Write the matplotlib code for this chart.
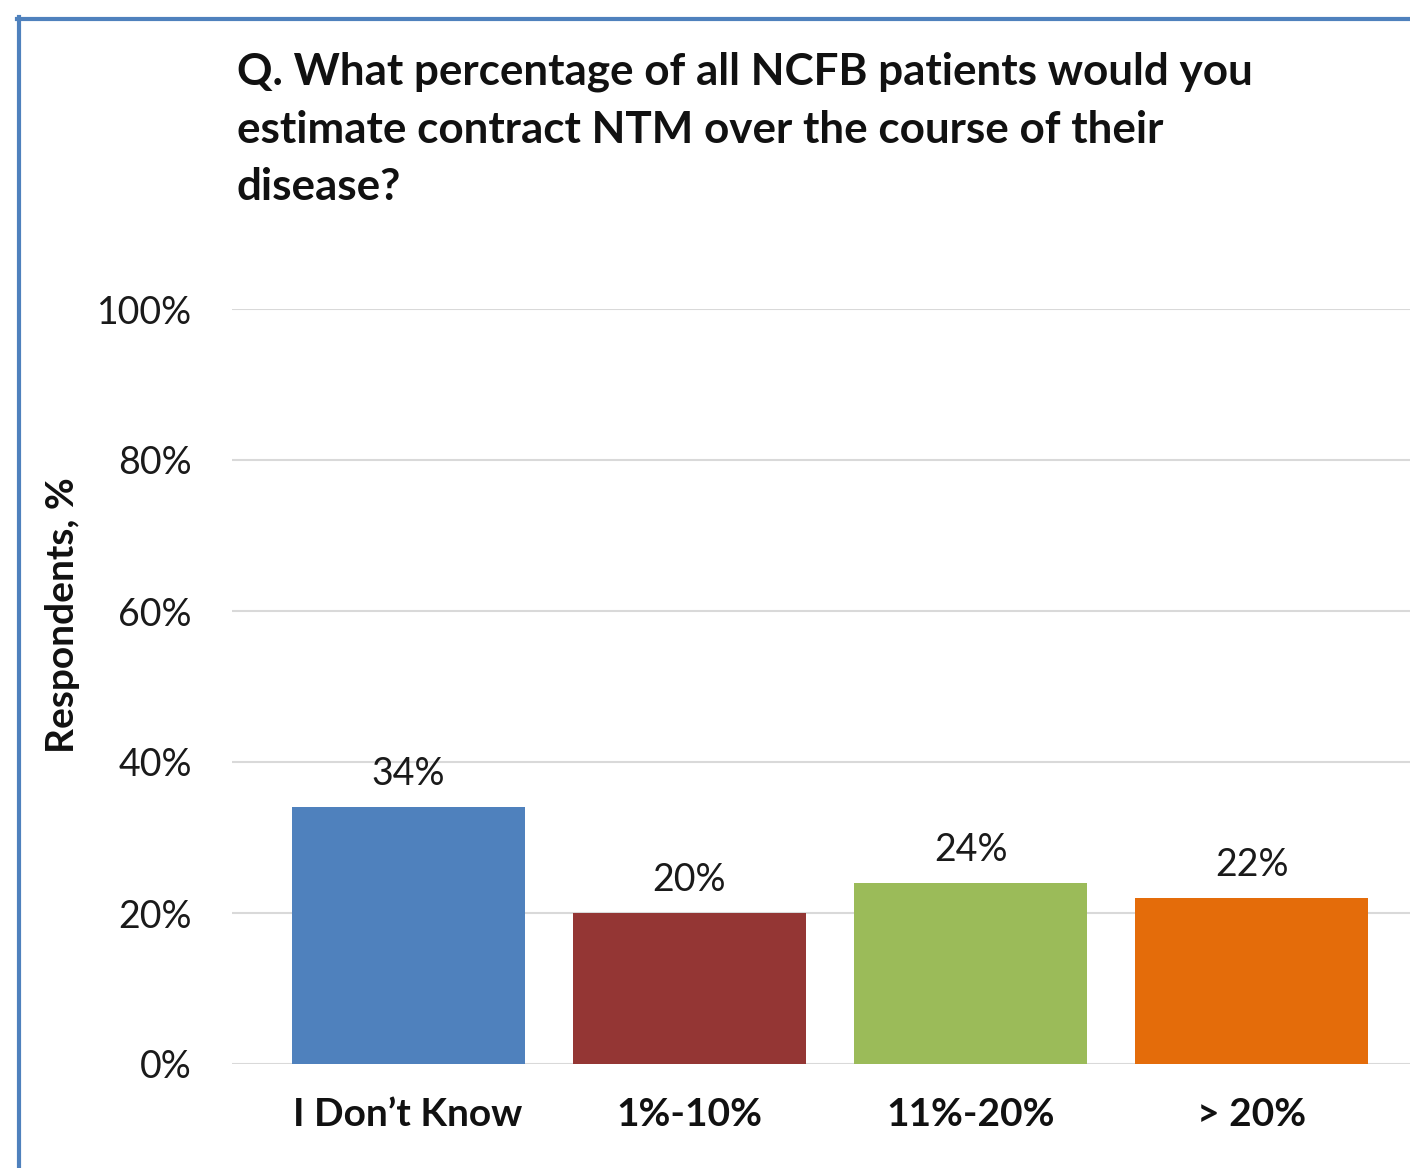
import matplotlib
matplotlib.use("Agg")
import matplotlib.pyplot as plt

categories = ["I Don\u2019t Know", "1%-10%", "11%-20%", "> 20%"]
values = [34, 20, 24, 22]
colors = ["#4F81BD", "#943634", "#9BBB59", "#E46C0A"]
yticks = [0, 20, 40, 60, 80, 100]
ytick_labels = ["0%", "20%", "40%", "60%", "80%", "100%"]
title = ("Q. What percentage of all NCFB patients would you\n"
         "estimate contract NTM over the course of their\n"
         "disease?")

plt.rcParams["font.family"] = ["Lato", "DejaVu Sans"]

W, H = 1410, 1168
fig = plt.figure(figsize=(W / 100, H / 100), dpi=100)

# frame drawn along the top and left edges
fig.add_artist(plt.Line2D([19 / W, 19 / W], [0, 1 - 17 / H], transform=fig.transFigure,
                          color="#4F81BD", lw=3))
fig.add_artist(plt.Line2D([17 / W, 1], [1 - 19 / H, 1 - 19 / H], transform=fig.transFigure,
                          color="#4F81BD", lw=3))

left, right = 232, 1410
bottom, top = 1064, 309
ax = fig.add_axes([left / W, 1 - bottom / H, (right - left) / W, (bottom - top) / H])

x = range(len(categories))
bar_w = 233 / 281.3
ax.bar(x, values, width=bar_w, color=colors, zorder=3)
for xi, v in zip(x, values):
    ax.text(xi, v + 2.0, f"{v}%", ha="center", va="bottom", fontsize=27, color="#1a1a1a")

ax.set_ylim(0, 100)
ax.set_xlim(-(408 - 232) / 281.3, (1410 - 408) / 281.3)
ax.set_yticks(yticks)
ax.set_yticklabels(ytick_labels, fontsize=27, color="#1a1a1a")
ax.set_xticks(list(x))
ax.set_xticklabels(categories, fontsize=28, fontweight="bold", color="#111111")
ax.tick_params(axis="both", length=0)
ax.tick_params(axis="y", pad=29)
ax.tick_params(axis="x", pad=24)
ax.grid(axis="y", color="#D9D9D9", lw=1.5, zorder=0)
for s in ax.spines.values():
    s.set_visible(False)

fig.text(62 / W, 1 - 615 / H, "Respondents, %", rotation=90, ha="center", va="center",
         fontsize=28, fontweight="bold", color="#111111")

fig.text(237 / W, 1 - 52 / H, title, ha="left", va="top", fontsize=31.7,
         fontweight="bold", color="#111111", linespacing=1.52)

fig.savefig("out.png", dpi=100)
